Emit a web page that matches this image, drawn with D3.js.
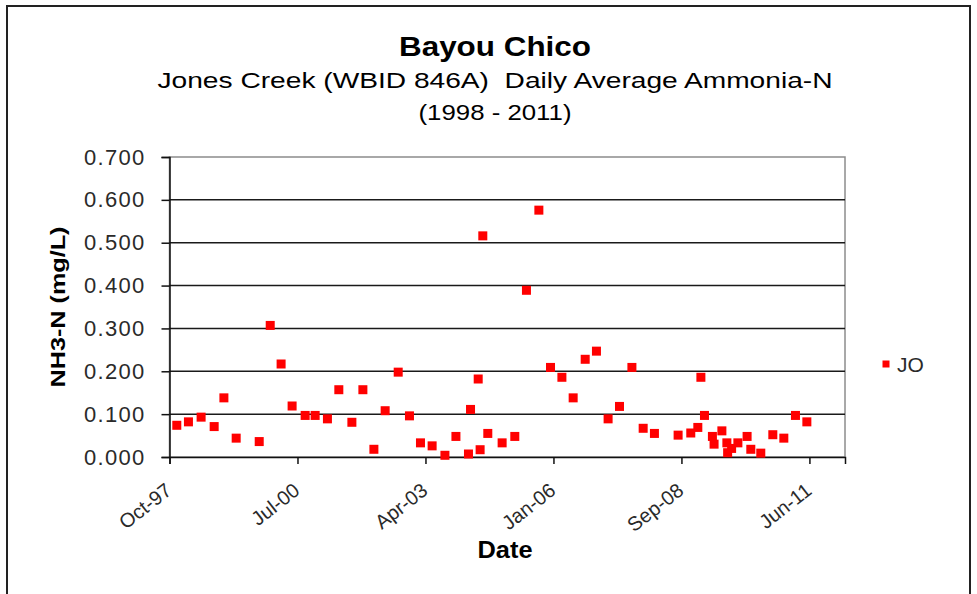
<!DOCTYPE html>
<html>
<head>
<meta charset="utf-8">
<script src="https://cdn.jsdelivr.net/npm/d3@7"></script>
<style>
  body { margin: 0; background: #fff; }
  text { font-family: "Liberation Sans", Arial, sans-serif; }
</style>
</head>
<body>
<div id="chart"></div>
<script>
// sample dates (quarterly) and daily average NH3-N
const sampleDates = [
  "1997-12-13", "1998-03-14", "1998-06-21", "1998-10-01", "1998-12-16",
  "1999-03-22", "1999-09-18", "1999-12-13", "2000-03-07", "2000-06-01",
  "2000-09-11", "2000-11-28", "2001-03-04", "2001-06-01", "2001-09-11",
  "2001-12-06", "2002-03-02", "2002-05-29", "2002-09-08", "2002-12-05",
  "2003-03-01", "2003-05-31", "2003-09-08", "2003-12-03", "2004-03-10",
  "2004-03-26", "2004-05-25", "2004-06-09", "2004-06-30", "2004-08-08",
  "2004-11-28", "2005-03-07", "2005-06-06", "2005-09-11", "2005-12-11",
  "2006-03-10", "2006-06-06", "2006-09-08", "2006-12-05", "2007-03-06",
  "2007-06-03", "2007-09-08", "2007-12-05", "2008-03-02", "2008-09-03",
  "2008-12-11", "2009-02-04", "2009-02-28", "2009-03-28", "2009-05-29",
  "2009-06-11", "2009-08-11", "2009-09-19", "2009-09-25", "2009-10-26",
  "2009-12-14", "2010-02-24", "2010-03-25", "2010-06-11", "2010-09-13",
  "2010-12-08", "2011-03-09", "2011-06-06"
];
const nh3Values = [
  0.074, 0.082, 0.093, 0.071, 0.138,
  0.044, 0.036, 0.307, 0.217, 0.119,
  0.097, 0.097, 0.089, 0.157, 0.081,
  0.157, 0.018, 0.108, 0.198, 0.096,
  0.033, 0.026, 0.004, 0.048, 0.007,
  0.111, 0.182, 0.017, 0.516, 0.055,
  0.033, 0.048, 0.389, 0.576, 0.209,
  0.186, 0.138, 0.228, 0.247, 0.089,
  0.118, 0.209, 0.067, 0.055, 0.051,
  0.056, 0.069, 0.186, 0.097, 0.048,
  0.030, 0.061, 0.033, 0.010, 0.020,
  0.033, 0.048, 0.018, 0.009, 0.052,
  0.044, 0.097, 0.082
];
const yTicks = [0, 0.1, 0.2, 0.3, 0.4, 0.5, 0.6, 0.7];
const axisStart = "1997-10-17";
const axisEnd = "2012-03-30";
const tickStepDays = 1000;
const seriesName = "JO";

const W = 977, H = 594;
const plot = {left: 169.5, right: 845, top: 157, bottom: 457};
const parse = d3.utcParse("%Y-%m-%d");

const data = sampleDates.map((d, i) => ({date: parse(d), value: nh3Values[i]}));

const x = d3.scaleUtc()
    .domain([parse(axisStart), parse(axisEnd)])
    .range([plot.left, plot.right]);
const y = d3.scaleLinear()
    .domain([0, 0.7])
    .range([plot.bottom, plot.top]);

const xTicks = d3.range(0, 6).map(k => d3.utcDay.offset(parse(axisStart), k * tickStepDays));

const svg = d3.select("#chart").append("svg")
    .attr("width", W)
    .attr("height", H);

// outer frame
svg.append("rect")
    .attr("x", 7).attr("y", 6)
    .attr("width", 963).attr("height", 620)
    .attr("fill", "#fff")
    .attr("stroke", "#222")
    .attr("stroke-width", 2);

// plot area border
svg.append("rect")
    .attr("x", plot.left).attr("y", plot.top)
    .attr("width", plot.right - plot.left)
    .attr("height", plot.bottom - plot.top)
    .attr("fill", "none")
    .attr("stroke", "#8c8c8c")
    .attr("stroke-width", 1.5);

// gridlines
svg.append("g")
    .selectAll("line")
    .data(yTicks.slice(1, -1))
    .join("line")
    .attr("x1", plot.left).attr("x2", plot.right)
    .attr("y1", d => y(d)).attr("y2", d => y(d))
    .attr("stroke", "#1a1a1a")
    .attr("stroke-width", 1.5);

// y axis
const yAxis = svg.append("g")
    .attr("transform", `translate(${plot.left},0)`)
    .call(d3.axisLeft(y).tickValues(yTicks).tickSize(8).tickPadding(16).tickFormat(d3.format(".3f")));
yAxis.select(".domain").attr("stroke", "#111").attr("stroke-width", 1.5);
yAxis.selectAll(".tick line").attr("stroke", "#111").attr("stroke-width", 1.5);
yAxis.selectAll(".tick text")
    .attr("font-size", 22)
    .attr("letter-spacing", 1.3)
    .attr("fill", "#2a2a2a")
    .attr("font-family", "Liberation Sans, Arial, sans-serif");

// x axis
const xAxis = svg.append("g")
    .attr("transform", `translate(0,${plot.bottom})`)
    .call(d3.axisBottom(x).tickValues(xTicks).tickSize(7).tickFormat(d3.utcFormat("%b-%y")));
xAxis.select(".domain").attr("stroke", "#111").attr("stroke-width", 1.5);
xAxis.selectAll(".tick line").attr("stroke", "#111").attr("stroke-width", 1.5);
xAxis.selectAll(".tick text")
    .attr("font-size", 20)
    .attr("fill", "#2a2a2a")
    .attr("font-family", "Liberation Sans, Arial, sans-serif")
    .attr("text-anchor", "end")
    .attr("y", 0)
    .attr("dy", 0)
    .attr("transform", "translate(3,36) rotate(-38)");

// points
svg.append("g")
    .selectAll("rect")
    .data(data)
    .join("rect")
    .attr("x", d => x(d.date) - 4.5)
    .attr("y", d => y(d.value) - 4.5)
    .attr("width", 9)
    .attr("height", 9)
    .attr("fill", "#ff0000");

// titles
svg.append("text")
    .attr("x", 495).attr("y", 56)
    .attr("text-anchor", "middle")
    .attr("font-size", 27)
    .attr("font-weight", "bold")
    .attr("textLength", 192)
    .attr("lengthAdjust", "spacingAndGlyphs")
    .text("Bayou Chico");
svg.append("text")
    .attr("x", 495).attr("y", 88)
    .attr("text-anchor", "middle")
    .attr("font-size", 22)
    .attr("textLength", 675)
    .attr("lengthAdjust", "spacingAndGlyphs")
    .attr("xml:space", "preserve")
    .text("Jones Creek (WBID 846A)  Daily Average Ammonia-N");
svg.append("text")
    .attr("x", 495).attr("y", 120)
    .attr("text-anchor", "middle")
    .attr("font-size", 22)
    .attr("textLength", 153)
    .attr("lengthAdjust", "spacingAndGlyphs")
    .text("(1998 - 2011)");

// axis titles
svg.append("text")
    .attr("transform", "translate(65,307) rotate(-90)")
    .attr("text-anchor", "middle")
    .attr("font-size", 21)
    .attr("font-weight", "bold")
    .attr("textLength", 161)
    .attr("lengthAdjust", "spacingAndGlyphs")
    .text("NH3-N (mg/L)");
svg.append("text")
    .attr("x", 505).attr("y", 558)
    .attr("text-anchor", "middle")
    .attr("font-size", 24)
    .attr("font-weight", "bold")
    .attr("textLength", 55)
    .attr("lengthAdjust", "spacingAndGlyphs")
    .text("Date");

// legend
const legend = svg.append("g").attr("transform", "translate(886,364)");
legend.append("rect")
    .attr("x", -3.5).attr("y", -3.5)
    .attr("width", 7).attr("height", 7)
    .attr("fill", "#ff0000");
legend.append("text")
    .attr("x", 11).attr("y", 8)
    .attr("font-size", 21)
    .attr("fill", "#2a2a2a")
    .text(seriesName);
</script>
</body>
</html>
